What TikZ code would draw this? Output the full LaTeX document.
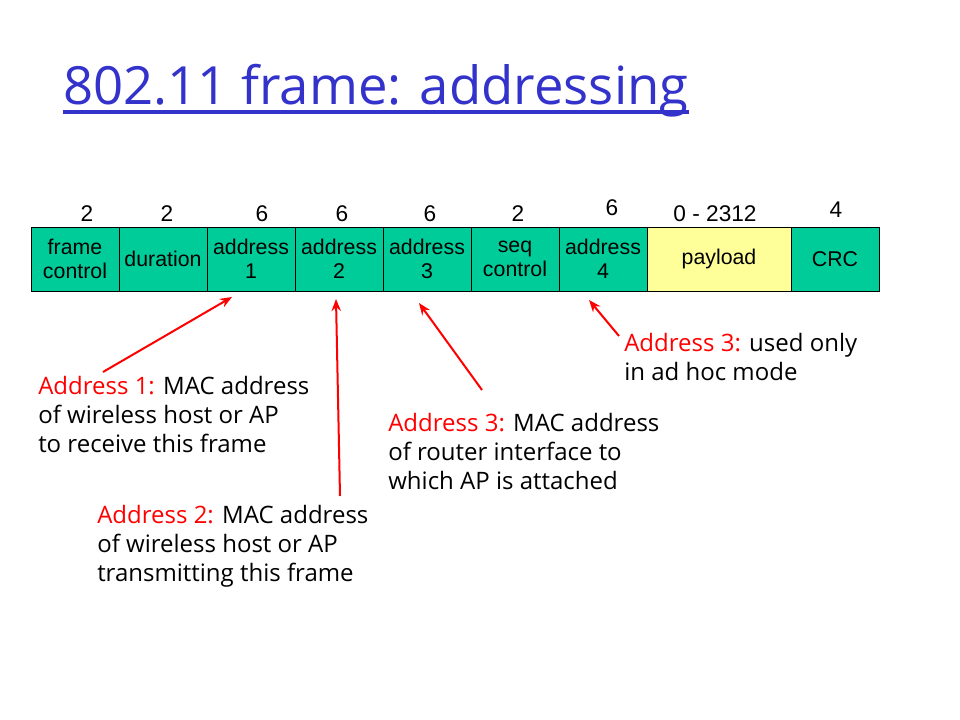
\documentclass[tikz,border=0pt]{standalone}
\usepackage{fontspec}
\setmainfont{Liberation Sans}
\newfontfamily\handfont{Open Sans}
\usetikzlibrary{positioning,arrows.meta,calc}
\definecolor{fieldgreen}{RGB}{0,204,153}
\definecolor{fieldyellow}{RGB}{255,255,153}
\definecolor{titleblue}{RGB}{51,51,204}
\definecolor{notered}{RGB}{255,0,0}

\begin{document}
\begin{tikzpicture}[x=0.75pt,y=-0.75pt,
    field/.style={draw=black,fill=fieldgreen,minimum width=66pt,minimum height=48pt,
      inner sep=0pt,outer sep=0pt,align=center,font=\fontsize{16}{18}\selectfont},
    size/.style={inner sep=0pt,font=\fontsize{17}{18}\selectfont},
    note/.style={inner sep=0pt,anchor=base west,align=left,
      font=\handfont\fontsize{18}{21.5}\selectfont},
    pointer/.style={draw=notered,line width=1.5pt,-{Stealth[length=9pt,width=7pt]}}]
  \useasboundingbox (0,0) rectangle (960,720);
  % title
  \node[anchor=base west,inner sep=0pt,text=titleblue,font=\handfont\fontsize{39.5}{44}\selectfont]
    (title) at (63,105) {802.11 frame: addressing};
  \draw[titleblue,line width=2.6pt] ($(title.base west)+(0,7)$) -- ($(title.base east)+(0,7)$);
  % frame fields
  \node[field,anchor=north west] (fc) at (31,227) {frame\\control};
  \node[field,right=0pt of fc] (dur) {duration};
  \node[field,right=0pt of dur] (a1) {address\\1};
  \node[field,right=0pt of a1] (a2) {address\\2};
  \node[field,right=0pt of a2] (a3) {address\\3};
  \node[field,right=0pt of a3] (seq) {seq\\control};
  \node[field,right=0pt of seq] (a4) {address\\4};
  \node[field,fill=fieldyellow,minimum width=108pt,right=0pt of a4] (pay) {payload};
  \node[field,right=0pt of pay] (crc) {CRC};
  % field sizes in bytes
  \node[size] (sfc) at (87,214) {2};
  \node[size] (sdur) at (167,214) {2};
  \node[size] (sa1) at (262,214) {6};
  \node[size] (sa2) at (342,214) {6};
  \node[size] (sa3) at (430,214) {6};
  \node[size] (sseq) at (518,214) {2};
  \node[size] (sa4) at (612,208) {6};
  \node[size] (spay) at (715,214) {0 - 2312};
  \node[size] (scrc) at (836,210) {4};
  % notes (anchored on the last line)
  \node[note] (n1) at (38,452) {\textcolor{notered}{Address 1:} MAC address\\of wireless host or AP\\to receive this frame};
  \node[note] (n2) at (97,581) {\textcolor{notered}{Address 2:} MAC address\\of wireless host or AP\\transmitting this frame};
  \node[note] (n3) at (388,489) {\textcolor{notered}{Address 3:} MAC address\\of router interface to\\which AP is attached};
  \node[note] (n4) at (624,380) {\textcolor{notered}{Address 3:} used only\\in ad hoc mode};
  % pointers
  \coordinate (f1) at (103,372);
  \coordinate (f2) at (340,496);
  \coordinate (f3) at (482,390);
  \coordinate (f4) at (619,336);
  \draw[pointer] (f1) -- ($(a1.south)+(-19,6)$);
  \draw[pointer] (f2) -- ($(a2.south)+(-3,8)$);
  \draw[pointer] (f3) -- ($(a3.south)+(-8,12)$);
  \draw[pointer] (f4) -- ($(a4.south)+(-14,9)$);
\end{tikzpicture}
\end{document}
